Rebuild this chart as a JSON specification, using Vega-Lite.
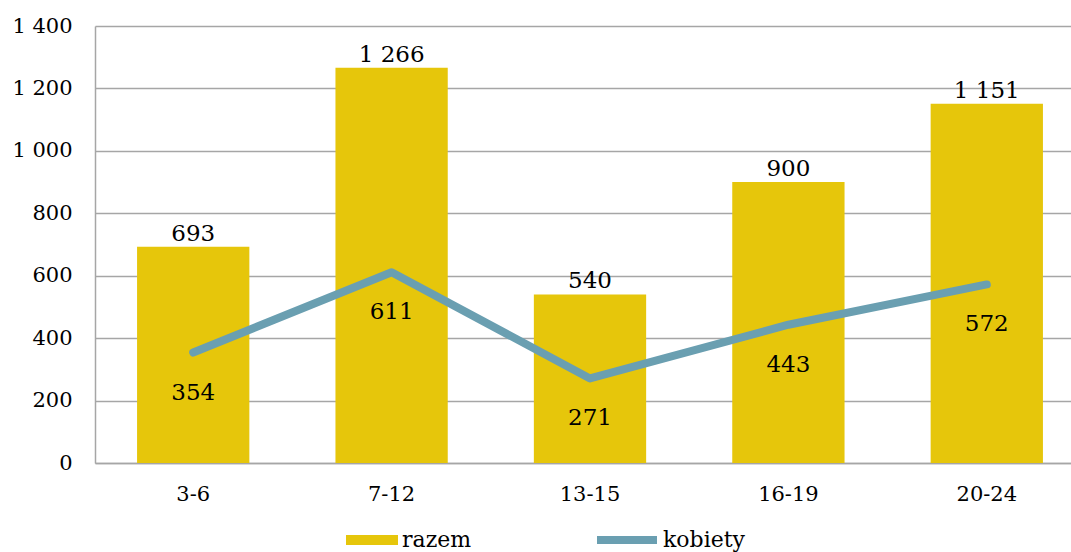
{
  "$schema": "https://vega.github.io/schema/vega-lite/v6.json",
  "width": 990,
  "height": 437,
  "autosize": "none",
  "padding": {"left": 95, "top": 26, "right": 0, "bottom": 89},
  "background": "white",
  "config": {
    "locale": {"number": {"decimal": ",", "thousands": " ", "grouping": [3], "currency": ["", ""]}},
    "view": {"stroke": null},
    "font": "DejaVu Serif",
    "text": {"font": "DejaVu Serif"}
  },
  "data": {
    "values": [
      {"grupa": "3-6", "razem": 693, "kobiety": 354},
      {"grupa": "7-12", "razem": 1266, "kobiety": 611},
      {"grupa": "13-15", "razem": 540, "kobiety": 271},
      {"grupa": "16-19", "razem": 900, "kobiety": 443},
      {"grupa": "20-24", "razem": 1151, "kobiety": 572}
    ]
  },
  "encoding": {
    "x": {
      "field": "grupa",
      "type": "nominal",
      "sort": null,
      "scale": {"paddingInner": 0.434, "paddingOuter": 0.212},
      "axis": {
        "title": null,
        "labelAngle": 0,
        "ticks": false,
        "labelPadding": 20,
        "labelFontSize": 21,
        "labelColor": "black",
        "labelFont": "DejaVu Serif",
        "domainColor": "#A6A6A6",
        "domainWidth": 1.5
      }
    }
  },
  "layer": [
    {
      "mark": {"type": "bar"},
      "encoding": {
        "y": {
          "field": "razem",
          "type": "quantitative",
          "scale": {"domain": [0, 1400]},
          "axis": {
            "title": null,
            "values": [0, 200, 400, 600, 800, 1000, 1200, 1400],
            "format": ",.0f",
            "grid": true,
            "gridColor": "#A6A6A6",
            "gridWidth": 1.5,
            "domainColor": "#A6A6A6",
            "domainWidth": 1.5,
            "ticks": false,
            "labelPadding": 23,
            "labelFontSize": 21,
            "labelColor": "black",
            "labelFont": "DejaVu Serif"
          }
        },
        "fill": {
          "datum": "razem",
          "scale": {"domain": ["razem"], "range": ["#E6C60B"]},
          "legend": {
            "orient": "none",
            "legendX": 251,
            "legendY": 488,
            "title": null,
            "symbolType": "M-1,-0.19H1V0.19H-1Z",
            "symbolSize": 2704,
            "symbolStrokeWidth": 0,
            "labelFontSize": 22,
            "labelFont": "DejaVu Serif",
            "labelColor": "black",
            "labelOffset": 4
          }
        }
      }
    },
    {
      "mark": {"type": "text", "fontSize": 23, "baseline": "alphabetic", "dy": -6, "color": "black", "font": "DejaVu Serif"},
      "encoding": {
        "y": {"field": "razem", "type": "quantitative"},
        "text": {"field": "razem", "type": "quantitative", "format": ",.0f"}
      }
    },
    {
      "mark": {"type": "line", "strokeWidth": 8, "strokeCap": "round", "strokeJoin": "round"},
      "encoding": {
        "y": {"field": "kobiety", "type": "quantitative"},
        "stroke": {
          "datum": "kobiety",
          "scale": {"domain": ["kobiety"], "range": ["#6A9FB1"]},
          "legend": {
            "orient": "none",
            "legendX": 498,
            "legendY": 480,
            "title": null,
            "symbolType": "stroke",
            "symbolSize": 3600,
            "symbolStrokeWidth": 8,
            "labelFontSize": 22,
            "labelFont": "DejaVu Serif",
            "labelColor": "black",
            "labelOffset": 2
          }
        }
      }
    },
    {
      "mark": {"type": "text", "fontSize": 23, "baseline": "alphabetic", "dy": 47, "color": "black", "font": "DejaVu Serif"},
      "encoding": {
        "y": {"field": "kobiety", "type": "quantitative"},
        "text": {"field": "kobiety", "type": "quantitative", "format": ",.0f"}
      }
    }
  ]
}
